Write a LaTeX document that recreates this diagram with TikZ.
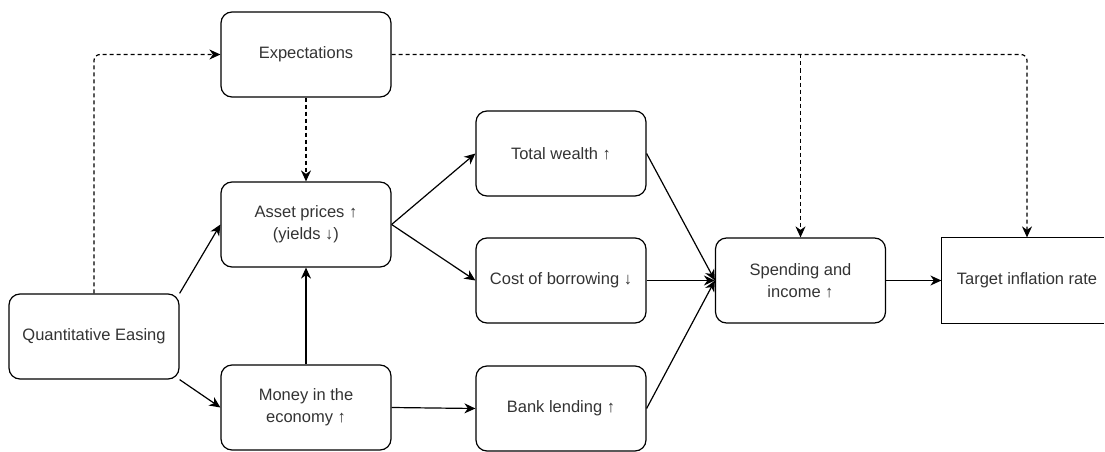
\documentclass[tikz,border=0pt]{standalone}
\usepackage{fontspec}
\setmainfont{Liberation Sans}
\usetikzlibrary{arrows.meta}
\begin{document}
\begin{tikzpicture}[x=1pt,y=-1pt,
  box/.style={draw, line width=1.2pt, rounded corners=11pt, minimum width=170pt,
    minimum height=85pt, align=center, inner sep=0pt, text=black!80,
    font=\fontsize{16.5}{22}\selectfont},
  openbox/.style={box, draw=none},
  link/.style={line width=1.2pt, -{Stealth[length=11pt,width=10pt,inset=3.5pt]}},
  hint/.style={link, dash pattern=on 4pt off 3pt, rounded corners=6pt}]
\useasboundingbox (0,0) rectangle (1105,452);
\coordinate (rim) at (1104,0);

% boxes
\node[box] (exp)    at (306,54.5)   {Expectations};
\node[box] (asset)  at (306,224.5)  {Asset prices ↑\\(yields ↓)};
\node[box] (qe)     at (94,336.5)   {Quantitative Easing};
\node[box] (money)  at (306,407.5)  {Money in the\\economy ↑};
\node[box] (wealth) at (561,153.5)  {Total wealth ↑};
\node[box] (cost)   at (561,280.5)  {Cost of borrowing ↓};
\node[box] (bank)   at (561,408.5)  {Bank lending ↑};
\node[box] (spend)  at (800.5,280.5) {Spending and\\income ↑};
\node[openbox] (target) at (1027,280.5) {Target inflation rate};
% the target box runs off the right edge, so only three sides show
\draw[line width=1.2pt] (target.north -| rim) -- (target.north west)
  -- (target.south west) -- (target.south -| rim);

% expectation channel (dashed)
\draw[hint] (qe.north) |- (exp.west);
\draw[hint] (exp.south) -- (asset.north);
\draw[hint] (exp.east) -| (target.north);
\coordinate (branch) at (spend.north |- exp.east);
\draw[hint] (branch) -- (spend.north);

% transmission channels
\draw[link] (qe.north east) -- (asset.west);
\draw[link] (qe.south east) -- (money.west);
\draw[link] (money.north) -- (asset.south);
\draw[link] (asset.east) -- (wealth.west);
\draw[link] (asset.east) -- (cost.west);
\draw[link] (money.east) -- (bank.west);
\draw[link] (wealth.east) -- (spend.west);
\draw[link] (cost.east) -- (spend.west);
\draw[link] (bank.east) -- (spend.west);
\draw[link] (spend.east) -- (target.west);
\end{tikzpicture}
\end{document}
